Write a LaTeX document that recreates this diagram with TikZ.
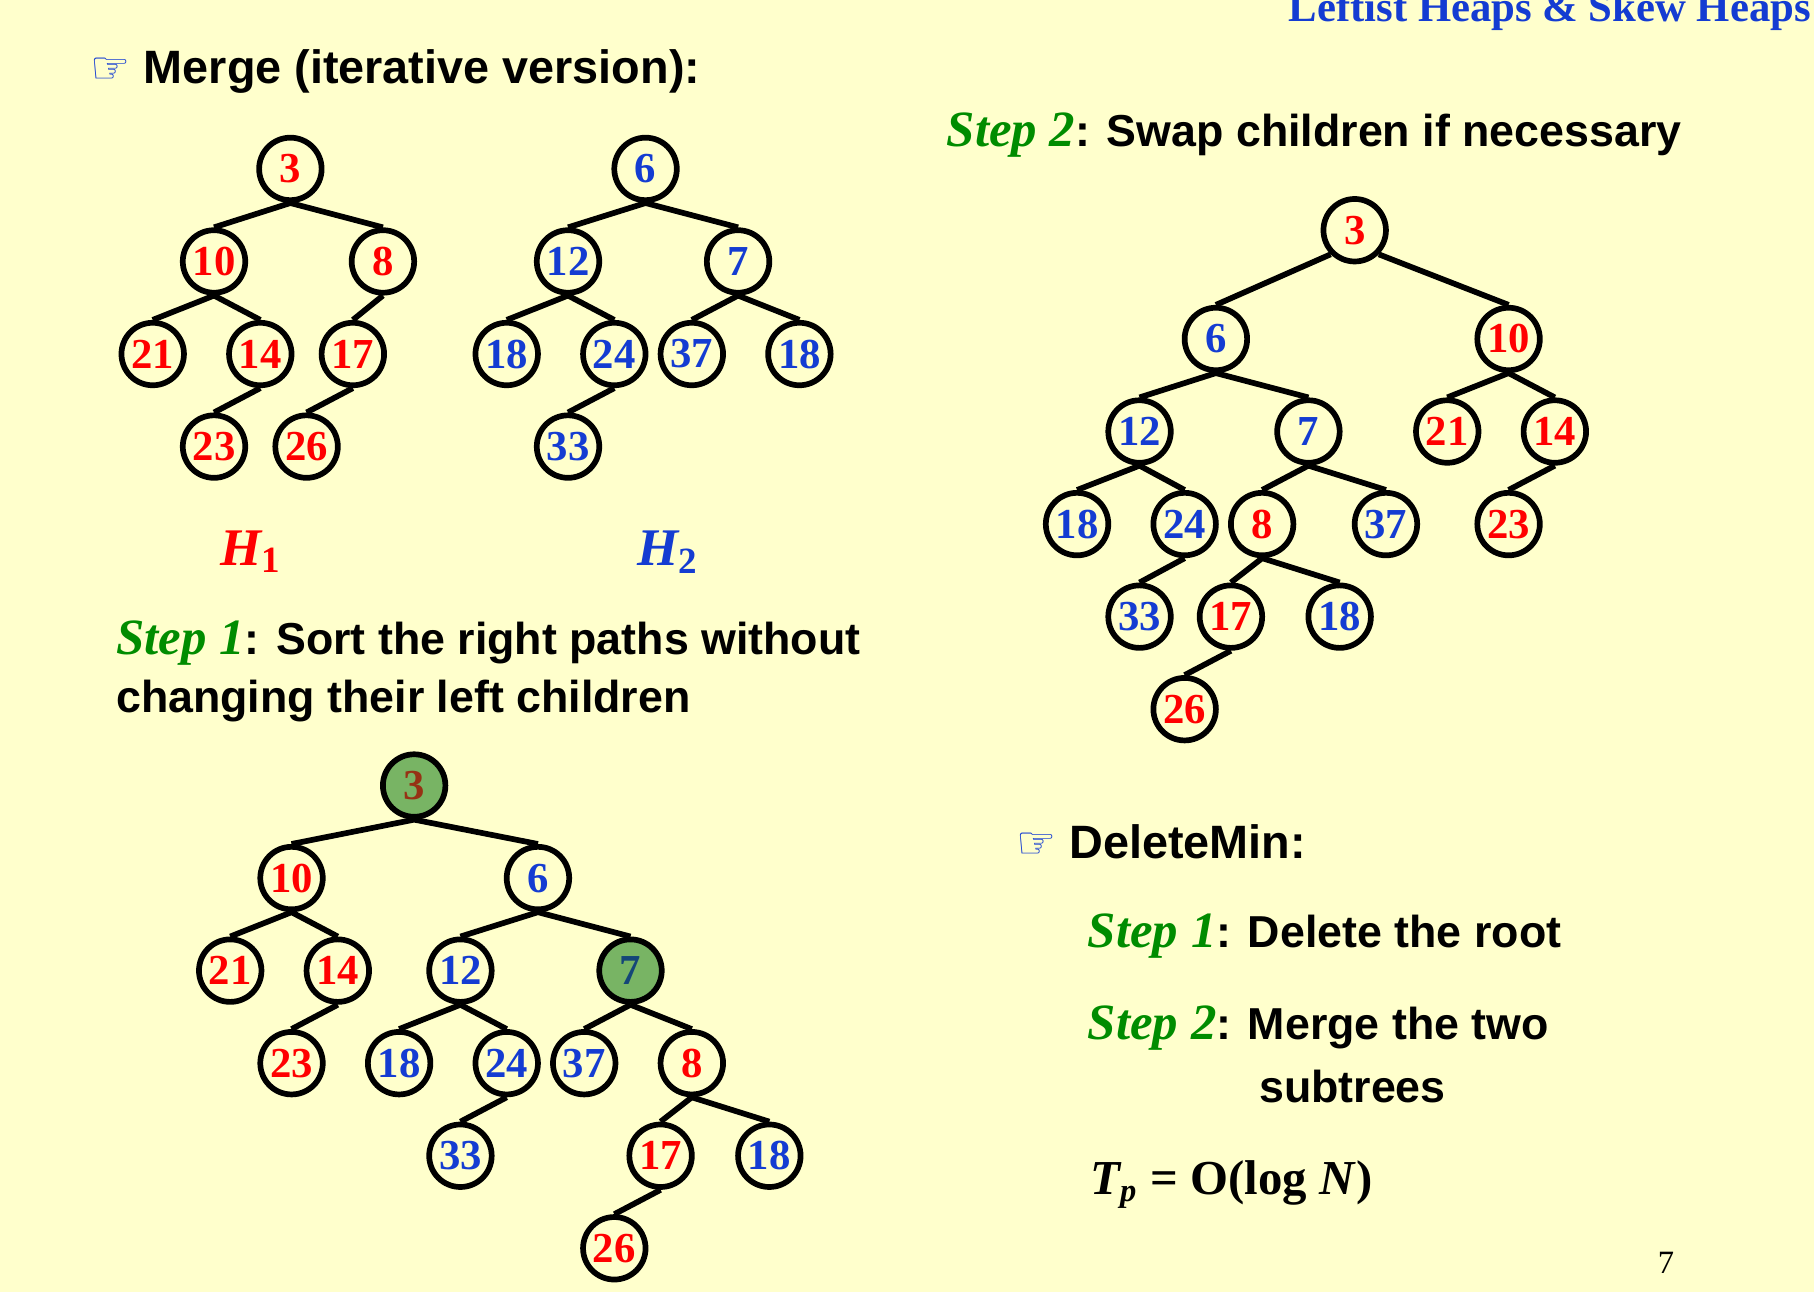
\documentclass[tikz,border=0pt]{standalone}
\usepackage{fontspec}
\setmainfont{Liberation Serif}
\setsansfont{Liberation Sans}
\newfontfamily\djv{DejaVu Sans}
\definecolor{bg}{RGB}{255,255,204}
\definecolor{hr}{RGB}{255,0,0}
\definecolor{hb}{RGB}{20,60,210}
\definecolor{hg}{RGB}{0,140,0}
\definecolor{gf}{RGB}{120,180,100}
\definecolor{br}{RGB}{150,50,20}
\definecolor{tb}{RGB}{20,70,120}
\newcommand\stpx[1]{{\color{hg}\rmfamily\bfseries\itshape\fontsize{12.5}{14}\selectfont #1}}
\newcommand\handx{{\djv\mdseries\color{hb}\fontsize{11}{12}\selectfont ☞}}
\begin{document}
\begin{tikzpicture}[x=0.01cm,y=-0.01cm,
  hn/.style={circle,draw=black,line width=1.4pt,minimum size=0.54cm,inner sep=0pt,font=\fontsize{10.5}{12}\selectfont\bfseries},
  r/.style={hn,text=hr},
  b/.style={hn,text=hb},
  gn/.style={hn,fill=gf},
  ed/.style={line width=1.4pt},
  txt/.style={anchor=west,font=\sffamily\bfseries\fontsize{11}{13}\selectfont}]
\fill[bg] (0,0) rectangle (1568,1117);
\useasboundingbox (0,0) rectangle (1568,1117);
\node[anchor=north east,text=hb,font=\bfseries\fontsize{10.5}{12}\selectfont,inner sep=0pt] (title) at (1566,-8) {Leftist Heaps \& Skew Heaps};
\node[txt,font=\sffamily\bfseries\fontsize{11.5}{13}\selectfont] (merge) at (66,62) {\handx\ Merge (iterative version):};
% H1
\node[r] (a3) at (251,146) {3};
\node[r] (a10) at (185,226) {10};
\node[r] (a8) at (331,226) {8};
\node[r] (a21) at (132,306) {21};
\node[r] (a14) at (225,306) {14};
\node[r] (a17) at (305,306) {17};
\node[r] (a23) at (185,386) {23};
\node[r] (a26) at (265,386) {26};
\draw[ed] (a3.south)--(a10.north) (a3.south)--(a8.north) (a10.south)--(a21.north) (a10.south)--(a14.north) (a14.south)--(a23.north) (a8.south)--(a17.north) (a17.south)--(a26.north);
% H2
\node[b] (b6) at (558,146) {6};
\node[b] (b12) at (491,226) {12};
\node[b] (b7) at (638,226) {7};
\node[b] (b18) at (438,306) {18};
\node[b] (b24) at (531,306) {24};
\node[b] (b37) at (598,306) {37};
\node[b] (b18b) at (691,306) {18};
\node[b] (b33) at (491,386) {33};
\draw[ed] (b6.south)--(b12.north) (b6.south)--(b7.north) (b12.south)--(b18.north) (b12.south)--(b24.north) (b24.south)--(b33.north) (b7.south)--(b37.north) (b7.south)--(b18b.north);
\node[text=hr,font=\bfseries\itshape\fontsize{13}{15}\selectfont] (h1) at (217,477) {H\textsubscript{\upshape 1}};
\node[text=hb,font=\bfseries\itshape\fontsize{13}{15}\selectfont] (h2) at (578,477) {H\textsubscript{\upshape 2}};
\node[txt] (s1a) at (88,556) {\stpx{Step 1}: Sort the right paths without};
\node[txt] (s1b) at (88,606) {changing their left children};
% Step 1 tree
\node[gn,text=br] (c3) at (358,679) {3};
\node[r] (c10) at (252,759) {10};
\node[b] (c6) at (465,759) {6};
\node[r] (c21) at (199,839) {21};
\node[r] (c14) at (292,839) {14};
\node[b] (c12) at (398,839) {12};
\node[gn,text=tb] (c7) at (545,839) {7};
\node[r] (c23) at (252,919) {23};
\node[b] (c18) at (345,919) {18};
\node[b] (c24) at (438,919) {24};
\node[b] (c37) at (505,919) {37};
\node[r] (c8) at (598,919) {8};
\node[b] (c33) at (398,999) {33};
\node[r] (c17) at (571,999) {17};
\node[b] (c18b) at (665,999) {18};
\node[r] (c26) at (531,1079) {26};
\draw[ed] (c3.south)--(c10.north) (c3.south)--(c6.north) (c10.south)--(c21.north) (c10.south)--(c14.north) (c14.south)--(c23.north) (c6.south)--(c12.north) (c6.south)--(c7.north) (c12.south)--(c18.north) (c12.south)--(c24.north) (c24.south)--(c33.north) (c7.south)--(c37.north) (c7.south)--(c8.north) (c8.south)--(c17.north) (c8.south)--(c18b.north) (c17.south)--(c26.north);
% Step 2
\node[txt] (s2) at (806,117) {\stpx{Step 2}: Swap children if necessary};
\node[r] (d3) at (1171,199) {3};
\node[b] (d6) at (1051,293) {6};
\node[r] (d10) at (1304,293) {10};
\node[b] (d12) at (985,373) {12};
\node[b] (d7) at (1131,373) {7};
\node[r] (d21) at (1251,373) {21};
\node[r] (d14) at (1344,373) {14};
\node[b] (d18) at (931,453) {18};
\node[b] (d24) at (1024,453) {24};
\node[r] (d8) at (1091,453) {8};
\node[b] (d37) at (1198,453) {37};
\node[r] (d23) at (1304,453) {23};
\node[b] (d33) at (985,533) {33};
\node[r] (d17) at (1064,533) {17};
\node[b] (d18b) at (1158,533) {18};
\node[r] (d26) at (1024,613) {26};
\draw[ed] (d3.south west)--(d6.north) (d3.south east)--(d10.north) (d6.south)--(d12.north) (d6.south)--(d7.north) (d12.south)--(d18.north) (d12.south)--(d24.north) (d24.south)--(d33.north) (d7.south)--(d8.north) (d7.south)--(d37.north) (d8.south)--(d17.north) (d8.south)--(d18b.north) (d17.south)--(d26.north) (d10.south)--(d21.north) (d10.south)--(d14.north) (d14.south)--(d23.north);
% DeleteMin
\node[txt,font=\sffamily\bfseries\fontsize{11.5}{13}\selectfont] (dm) at (866,728) {\handx\ DeleteMin:};
\node[txt] (e1) at (928,809) {\stpx{Step 1}: Delete the root};
\node[txt] (e2) at (928,889) {\stpx{Step 2}: Merge the two};
\node[txt] (e3) at (1076,939) {subtrees};
\node[anchor=west,font=\bfseries\fontsize{12}{14}\selectfont] (tp) at (930,1024) {\textit{T\textsubscript{p}} = O(log \textit{N})};
\node[font=\fontsize{8}{9}\selectfont] (pg) at (1440,1092) {7};
\end{tikzpicture}
\end{document}
